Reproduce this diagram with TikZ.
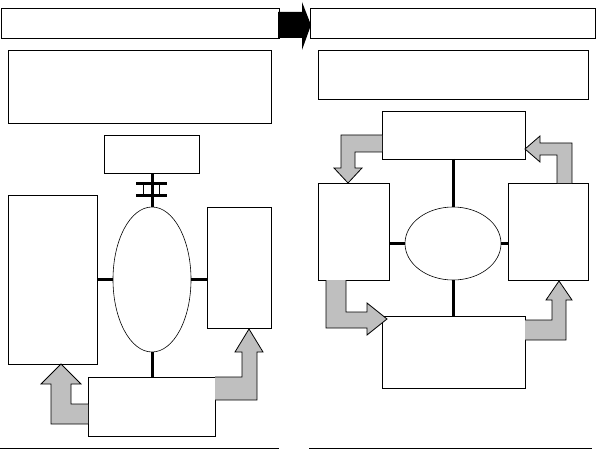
\documentclass[tikz,border=0pt]{standalone}
\usetikzlibrary{shapes.geometric}
\begin{document}
\begin{tikzpicture}[x=1pt,y=-1pt,
  box/.style={draw, line width=0.9pt, inner sep=0pt, outer sep=0pt, anchor=north west},
  oval/.style={draw, ellipse, line width=0.6pt, inner sep=0pt, outer sep=0pt},
  conn/.style={line width=3pt},
  thinconn/.style={line width=0.8pt},
  block/.style={fill=black!25, draw=black, line width=0.8pt, line join=miter}]
\useasboundingbox (0,0) rectangle (596,449);
% headers
\node[box, minimum width=278pt, minimum height=30pt] (hl) at (1,8) {};
\node[box, minimum width=285pt, minimum height=30pt] (hr) at (310,8) {};
\fill (278,12) -- (302,12) -- (302,2) -- (311,25) -- (302,50) -- (302,38) -- (278,38) -- cycle;
% text boxes
\node[box, minimum width=263pt, minimum height=73pt] (tl) at (8,50) {};
\node[box, minimum width=270pt, minimum height=49pt] (tr) at (318,50) {};
% left diagram
\node[box, minimum width=95pt, minimum height=38pt] (lsm) at (104,135) {};
\node[oval, minimum width=78pt, minimum height=145pt] (le) at (152,279.5) {};
\node[box, minimum width=89pt, minimum height=169pt] (ll) at (8,195) {};
\node[box, minimum width=64pt, minimum height=121pt] (lr) at (207,207) {};
\node[box, minimum width=127pt, minimum height=59pt] (lb) at (88,377) {};
\coordinate (b1l) at (136,183); \coordinate (b1r) at (167,183);
\coordinate (b2l) at (136,195); \coordinate (b2r) at (167,195);
\draw[conn] (lsm.south -| le.north) -- (le.north);
\draw[conn] (b1l) -- (b1r);
\draw[conn] (b2l) -- (b2r);
\draw[thinconn] (143,183) -- (143,195) (159,183) -- (159,195);
\draw[conn] (ll.east |- le.west) -- (le.west);
\draw[conn] (le.east) -- (le.east -| lr.west);
\draw[conn] (le.south) -- (le.south |- lb.north);
\draw[block] (88,404) -- (71,404) -- (71,384) -- (81,384) -- (61,364) -- (41,384) -- (51,384) -- (51,424) -- (88,424);
\draw[block] (215,377) -- (242,377) -- (242,352) -- (235,352) -- (249,329) -- (263,352) -- (257,352) -- (257,400) -- (215,400);
\draw[line width=1pt] (0,448) -- (279,448);
% right diagram
\node[box, minimum width=143pt, minimum height=48pt] (rt) at (382,111) {};
\node[oval, minimum width=96pt, minimum height=73pt] (re) at (453,243.5) {};
\node[box, minimum width=71pt, minimum height=97pt] (rl) at (318,183) {};
\node[box, minimum width=80pt, minimum height=97pt] (rr) at (508,183) {};
\node[box, minimum width=143pt, minimum height=72pt] (rb) at (382,316) {};
\draw[conn] (rt.south -| re.north) -- (re.north);
\draw[conn] (re.south) -- (re.south |- rb.north);
\draw[conn] (rl.east |- re.west) -- (re.west);
\draw[conn] (re.east) -- (re.east -| rr.west);
\draw[block] (382,135) -- (341,135) -- (341,168) -- (334,168) -- (348,183) -- (362,168) -- (355,168) -- (355,152) -- (382,152);
\draw[block] (557,183) -- (557,155) -- (540,155) -- (540,162) -- (525,149) -- (540,136) -- (540,143) -- (572,143) -- (572,183);
\draw[block] (326,280) -- (326,328) -- (367,328) -- (367,335) -- (387,319) -- (367,303) -- (367,312) -- (346,312) -- (346,280);
\draw[block] (525,320) -- (552,320) -- (552,300) -- (546,300) -- (559,281) -- (572,300) -- (566,300) -- (566,340) -- (525,340);
\draw[line width=1pt] (309,448) -- (592,448);
\end{tikzpicture}
\end{document}
